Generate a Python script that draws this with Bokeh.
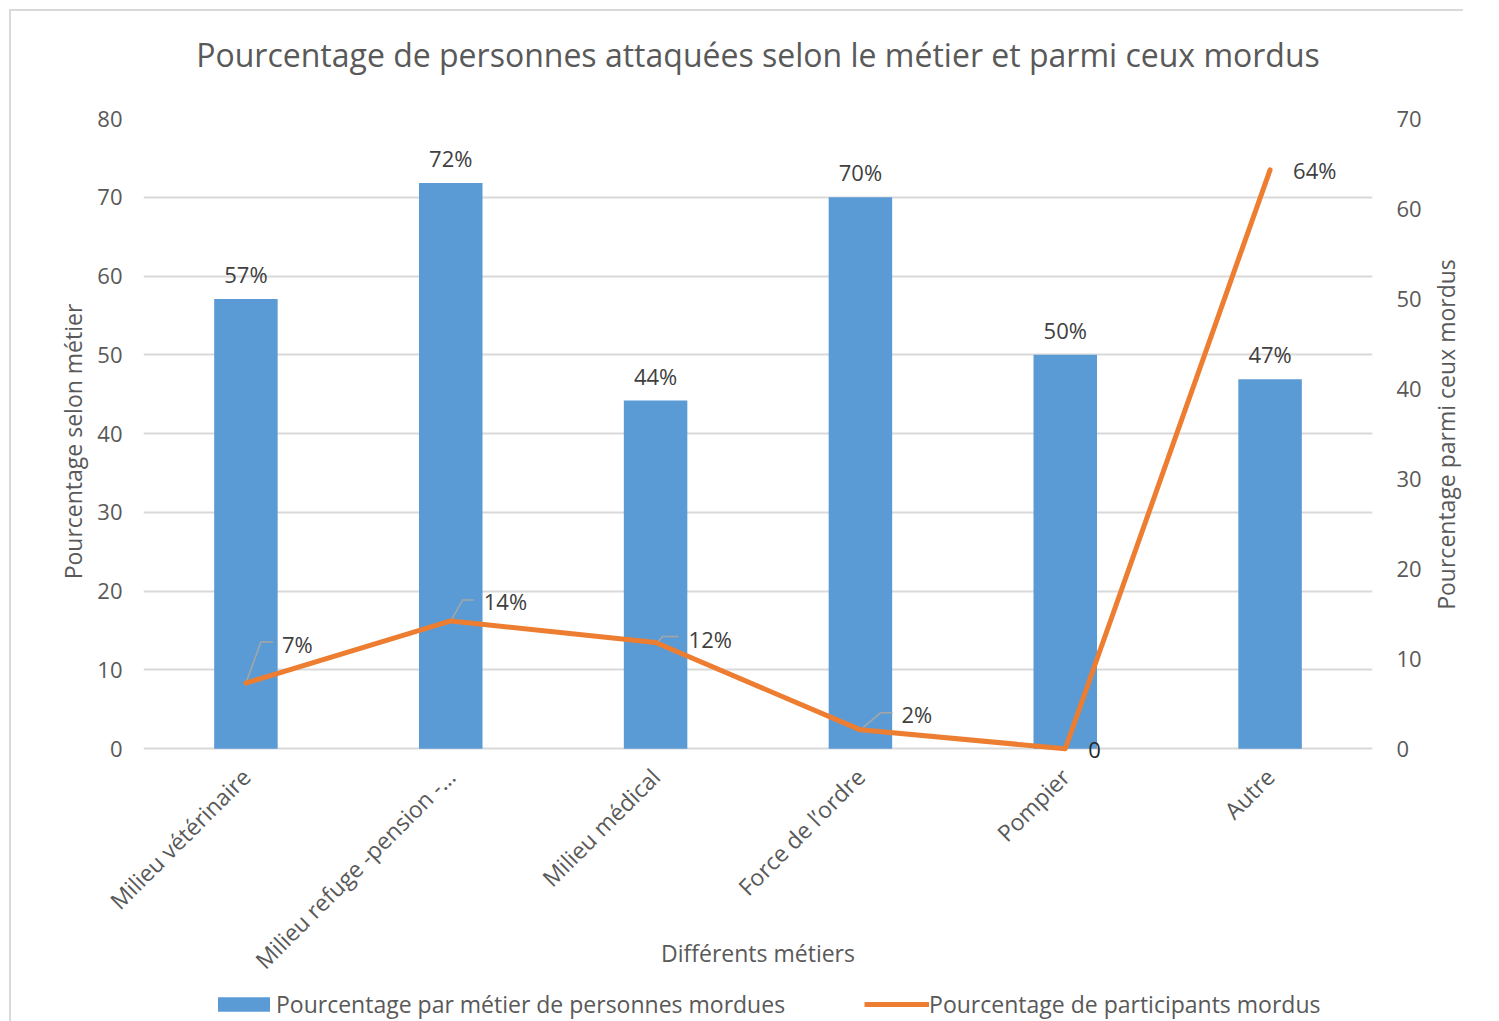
import math
from bokeh.plotting import figure
from bokeh.layouts import column, row
from bokeh.models import (ColumnDataSource, Range1d, LinearAxis, FactorRange, Legend,
                          LegendItem, FixedTicker, Title)
from bokeh.core.properties import value
from bokeh.embed import file_html
from bokeh.resources import INLINE

# ---------------- data ----------------
categories = ["Milieu vétérinaire", "Milieu refuge -pension -…", "Milieu médical",
              "Force de l\u2019ordre", "Pompier", "Autre"]
bar_values = [57.1, 71.8, 44.2, 70.0, 50.0, 46.9]          # left axis
line_values = [7.3, 14.2, 11.8, 2.1, 0.0, 64.3]            # right axis
line_labels = ["7%", "14%", "12%", "2%", "0", "64%"]
left_ticks = [0, 10, 20, 30, 40, 50, 60, 70, 80]
right_ticks = [0, 10, 20, 30, 40, 50, 60, 70]

title = "Pourcentage de personnes attaquées selon le métier et parmi ceux mordus"
x_title = "Différents métiers"
left_title = "Pourcentage selon métier"
right_title = "Pourcentage parmi ceux mordus"
bar_name = "Pourcentage par métier de personnes mordues"
line_name = "Pourcentage de participants mordus"

# ---------------- style ----------------
FONT = "Open Sans"
TXT = "#595959"
LBL = "#404040"
BLUE = "#5B9BD5"
ORANGE = "#ED7D31"
GRID = "#D9D9D9"

LEFT_MAX, RIGHT_MAX = 80, 70
PAD = 2  # room below zero so the "0" label is not clipped

FW, FH = 1229, 646
BL, BR, BT, BB = 132, 55, 107, 222

p = figure(frame_width=FW, frame_height=FH,
           x_range=FactorRange(*categories, range_padding=0),
           y_range=Range1d(-PAD, LEFT_MAX), output_backend="svg", toolbar_location=None,
           min_border_left=BL, min_border_right=BR, min_border_top=BT,
           min_border_bottom=BB)
p.extra_y_ranges = {"right": Range1d(-PAD * RIGHT_MAX / LEFT_MAX, RIGHT_MAX)}
p.outline_line_color = None
p.background_fill_color = "white"
p.border_fill_color = "white"

p.title.text = title
p.title.align = "center"
p.title.text_font = FONT
p.title.text_font_size = "32px"
p.title.text_font_style = "normal"
p.title.text_color = TXT
p.title.standoff = 0
# spacer between title and plot area
p.add_layout(Title(text=" ", text_font_size="1px", standoff=40), "above")

# left axis
ya = p.yaxis[0]
ya.ticker = FixedTicker(ticks=left_ticks)
ya.axis_label = left_title
ya.axis_label_text_font = FONT
ya.axis_label_text_font_size = "23px"
ya.axis_label_text_font_style = "normal"
ya.axis_label_text_color = TXT
ya.axis_label_standoff = 5
ya.major_label_text_font = FONT
ya.major_label_text_font_size = "22px"
ya.major_label_text_color = TXT
ya.major_label_standoff = 15
ya.axis_line_color = None
ya.major_tick_line_color = None
ya.minor_tick_line_color = None

# right axis (ticks)
ra = LinearAxis(y_range_name="right", ticker=FixedTicker(ticks=right_ticks))
ra.major_label_text_font = FONT
ra.major_label_text_font_size = "22px"
ra.major_label_text_color = TXT
ra.major_label_standoff = 18
ra.axis_line_color = None
ra.major_tick_line_color = None
ra.minor_tick_line_color = None
p.add_layout(ra, "right")

# x axis
xa = p.xaxis[0]
xa.major_label_orientation = math.pi / 4
xa.major_label_text_font = FONT
xa.major_label_text_font_size = "23px"
xa.major_label_text_color = TXT
xa.major_label_standoff = 2
xa.axis_line_color = None
xa.major_tick_line_color = None
xa.minor_tick_line_color = None

# x axis title (overlapping the slanted labels' band)
xt = LinearAxis(ticker=FixedTicker(ticks=[]))
xt.axis_label = x_title
xt.axis_label_text_font = FONT
xt.axis_label_text_font_size = "23px"
xt.axis_label_text_font_style = "normal"
xt.axis_label_text_color = TXT
xt.axis_label_standoff = -53
xt.axis_line_color = None
xt.major_tick_line_color = None
xt.minor_tick_line_color = None
p.add_layout(xt, "below")

p.xgrid.grid_line_color = None
p.ygrid.grid_line_color = GRID
p.ygrid.grid_line_width = 2
p.ygrid.ticker = FixedTicker(ticks=left_ticks)

# ---------------- glyphs ----------------
src = ColumnDataSource(dict(cat=categories, bar=bar_values, line=line_values,
                            bar_lbl=[f"{round(v)}%" for v in bar_values],
                            line_lbl=line_labels))

bars = p.vbar(x="cat", top="bar", bottom=0, width=0.31, source=src, fill_color=BLUE,
              line_color=None)
p.text(x="cat", y="bar", text="bar_lbl", source=src, text_font=value(FONT),
       text_font_size="22px", text_color=LBL, text_align="center",
       text_baseline="middle", y_offset=-25)

# leader lines (pixel offsets from the point, converted to data units)
cat_px = FW / len(categories)
r_px = 630 / RIGHT_MAX
leaders = {0: (0, 15, -41, 27), 1: (0, 12, -21, 23), 2: (2, 7, -6, 23), 3: (0, 20, -17, 32)}
xs, ys = [], []
for i, (dx0, dx1, dy, dx2) in leaders.items():
    x0 = i + 0.5
    y0 = line_values[i]
    xs.append([x0 + dx0 / cat_px, x0 + dx1 / cat_px, x0 + dx2 / cat_px])
    ys.append([y0, y0 - dy / r_px, y0 - dy / r_px])
p.multi_line(xs=xs, ys=ys, line_color="#A6A6A6", line_width=1.5, y_range_name="right")

line = p.line(x="cat", y="line", source=src, line_color=ORANGE, line_width=5,
              line_join="round", line_cap="round", y_range_name="right")

lbl_dx = [36, 33, 33, 41, 23, 23]
lbl_dy = [-39, -20, -4, -16, 1, 0]
for i in range(len(categories)):
    p.text(x=[i + 0.5], y=[line_values[i]], text=[line_labels[i]],
           text_font=value(FONT), text_font_size="22px",
           text_color=("#262626" if line_labels[i] == "0" else LBL),
           text_align="left", text_baseline="middle",
           x_offset=lbl_dx[i], y_offset=lbl_dy[i], y_range_name="right")

# ---------------- right axis title (reads bottom to top) ----------------
rf = figure(frame_width=36, frame_height=FH, x_range=Range1d(0, 1), y_range=Range1d(0, FH),
            output_backend="svg", toolbar_location=None,
            min_border_left=0, min_border_right=0, min_border_top=BT, min_border_bottom=BB)
rf.axis.visible = False
rf.grid.visible = False
rf.outline_line_color = None
rf.border_fill_color = "white"
rf.text(x=[0.5], y=[FH / 2 + 7], text=[right_title], angle=math.pi / 2,
        text_font=value(FONT), text_font_size="23px", text_color=TXT,
        text_align="center", text_baseline="middle")

# ---------------- legend strip ----------------
lg = figure(frame_width=FW, frame_height=34, x_range=Range1d(0, 1), y_range=Range1d(0, 1),
            output_backend="svg", toolbar_location=None,
            min_border_left=BL, min_border_right=BR, min_border_top=0, min_border_bottom=0)
lg.axis.visible = False
lg.grid.visible = False
lg.outline_line_color = None
lg.border_fill_color = "white"
dummy = ColumnDataSource(dict(x=[-5.0], y=[-5.0]))   # off-canvas: only the legend swatches show
lbar = lg.vbar(x="x", top="y", width=0.1, source=dummy, fill_color=BLUE, line_color=None)
lline = lg.line(x="x", y="y", source=dummy, line_color=ORANGE, line_width=5)
legend = Legend(items=[LegendItem(label=bar_name, renderers=[lbar]),
                       LegendItem(label=line_name, renderers=[lline])],
                orientation="horizontal", location=(68, 3),
                glyph_width=65, glyph_height=18, label_standoff=0, spacing=79,
                padding=0, margin=0, border_line_color=None,
                background_fill_alpha=0, label_text_font=FONT,
                label_text_font_size="23px", label_text_color=TXT)
lg.add_layout(legend)

layout = column(row(p, rf, spacing=0), lg, spacing=0)
layout.styles = {"border-left": "2px solid #D9D9D9", "border-top": "2px solid #D9D9D9",
                 "margin-left": "9px", "margin-top": "9px"}

open("out.html", "w").write(file_html(layout, INLINE))
